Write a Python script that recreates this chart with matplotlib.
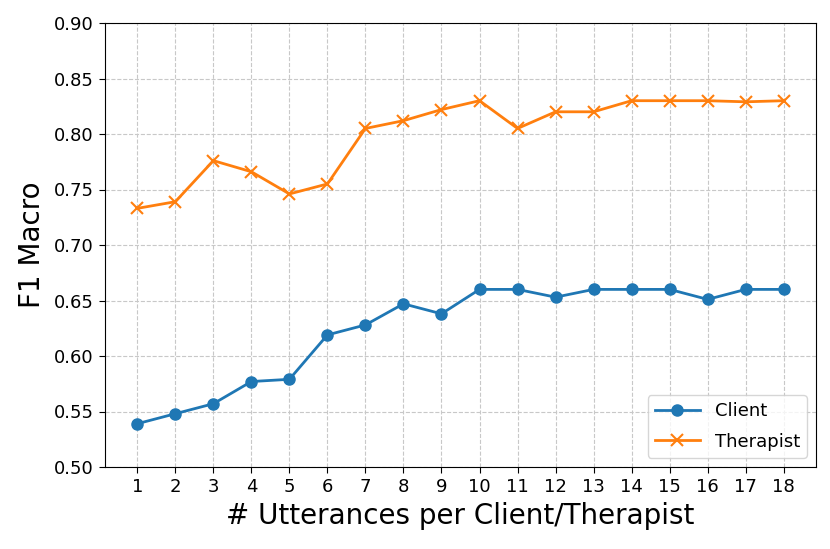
import matplotlib
matplotlib.use("Agg")
import matplotlib.pyplot as plt

utterances = list(range(1, 19))
client = [0.539, 0.548, 0.557, 0.577, 0.579, 0.619, 0.628, 0.647, 0.638,
          0.660, 0.660, 0.653, 0.660, 0.660, 0.660, 0.651, 0.660, 0.660]
therapist = [0.733, 0.739, 0.776, 0.766, 0.746, 0.755, 0.805, 0.812, 0.822,
             0.830, 0.805, 0.820, 0.820, 0.830, 0.830, 0.830, 0.829, 0.830]
yticks = [0.50, 0.55, 0.60, 0.65, 0.70, 0.75, 0.80, 0.85, 0.90]

fig = plt.figure(figsize=(8.3, 5.49), dpi=100)
ax = fig.add_axes([105/830, 1 - 467/549, (816 - 105)/830, (467 - 23)/549])

ax.plot(utterances, client, marker='o', markersize=8, linewidth=2,
        color='#1f77b4', label='Client')
ax.plot(utterances, therapist, marker='x', markersize=8, linewidth=2,
        markeredgewidth=1.5, color='#ff7f0e', label='Therapist')

ax.set_xticks(utterances)
ax.set_yticks(yticks)
ax.set_yticklabels([f"{v:.2f}" for v in yticks])
ax.set_ylim(0.50, 0.90)
ax.tick_params(labelsize=13, length=4.5)
ax.grid(True, linestyle='--', color='#c8c8c8', linewidth=0.8)
ax.set_axisbelow(True)
ax.set_xlabel('# Utterances per Client/Therapist', fontsize=20)
ax.set_ylabel('F1 Macro', fontsize=20, labelpad=6)
ax.legend(loc='lower right', fontsize=13, handlelength=2.5, labelspacing=0.7)

fig.savefig('out.png', dpi=100)
